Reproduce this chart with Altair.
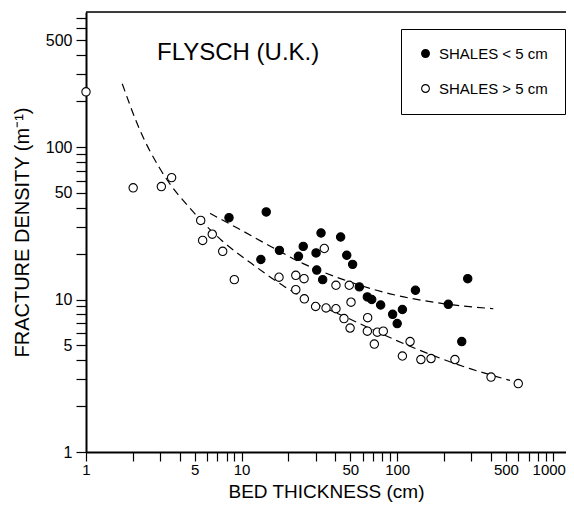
import altair as alt
import pandas as pd

# ---- data ----
series_labels = ["SHALES < 5 cm", "SHALES > 5 cm"]

filled_x = [8.3, 14.4, 13.3, 17.5, 24.9, 23.2, 32.4, 30.1, 43.3, 47.4, 51.7, 30.4,
            33.2, 57.1, 64.3, 68.6, 78.3, 93.5, 108, 131, 100, 213, 284, 260]
filled_y = [34.4, 37.5, 18.3, 21.0, 22.3, 19.2, 27.3, 20.2, 25.7, 19.5, 17.0, 15.6,
            13.5, 12.1, 10.4, 10.0, 9.2, 8.0, 8.6, 11.5, 6.95, 9.3, 13.7, 5.3]

open_x = [1.0, 2.01, 3.05, 3.55, 5.46, 5.62, 6.48, 7.56, 8.98, 17.4, 22.3, 25.2,
          22.3, 25.3, 34.0, 29.9, 34.9, 40.4, 40.4, 49.2, 50.5, 45.5, 64.6, 49.8,
          64.3, 74.5, 81.4, 71.3, 121, 108, 142, 165, 235, 401, 600]
open_y = [230, 54, 55, 63, 33, 24.4, 26.8, 20.7, 13.5, 14.0, 14.4, 13.7,
          11.6, 10.1, 21.6, 9.0, 8.8, 8.7, 12.4, 12.4, 9.6, 7.5, 7.6, 6.5,
          6.2, 6.1, 6.2, 5.1, 5.3, 4.26, 4.04, 4.1, 4.04, 3.1, 2.81]

upper_fit_x = [6.27, 9.52, 15.6, 24.9, 45.1, 89.9, 171, 415]
upper_fit_y = [36.7, 29.2, 22.1, 17.2, 13.5, 10.9, 9.6, 8.7]
lower_fit_x = [1.71, 2.22, 2.99, 4.89, 7.45, 11.6, 19.0, 54.9, 124, 294, 531]
lower_fit_y = [260, 129, 72, 37.5, 24.4, 17.2, 12.1, 7.1, 4.88, 3.52, 2.95]

title_text = "FLYSCH (U.K.)"
x_title = "BED THICKNESS (cm)"
y_title = "FRACTURE DENSITY (m\u207b\u00b9)"

x_ticks = [m * 10 ** e for e in range(0, 4) for m in range(1, 10) if m * 10 ** e <= 1000]
x_labels = [1, 5, 10, 50, 100, 500, 1000]
y_ticks = [m * 10 ** e for e in range(0, 3) for m in range(1, 10) if m * 10 ** e <= 700]
y_labels = [1, 5, 10, 50, 100, 500]

# ---- tables ----
pts = pd.DataFrame({
    "x": filled_x + open_x,
    "y": filled_y + open_y,
    "s": [series_labels[0]] * len(filled_x) + [series_labels[1]] * len(open_x),
})
fits = pd.DataFrame({
    "x": upper_fit_x + lower_fit_x,
    "y": upper_fit_y + lower_fit_y,
    "s": ["upper"] * len(upper_fit_x) + ["lower"] * len(lower_fit_x),
})

FONT = "Liberation Sans"
W, H = 480, 440


def label_expr(vals):
    arr = "[" + ",".join(str(v) for v in vals) + "]"
    return f"indexof({arr}, datum.value) >= 0 ? format(datum.value, 'd') : ''"


xscale = alt.Scale(type="log", domain=[1, 1216], nice=False)
yscale = alt.Scale(type="log", domain=[1, 768], nice=False)

xaxis = alt.Axis(values=x_ticks, labelExpr=label_expr(x_labels), title=x_title,
                 grid=False, labelFlush=False, labelOverlap=False, tickSize=9,
                 tickWidth=1.2, domainWidth=2, domainColor="black", tickColor="black",
                 labelFontSize=15, labelFont=FONT, labelColor="black", labelPadding=1,
                 labelOffset={"condition": {"test": "datum.value === 1000", "value": -4},
                              "value": 0},
                 titleFont=FONT, titleFontSize=19, titleFontWeight="normal",
                 titleColor="black", titlePadding=5)
yaxis = alt.Axis(values=y_ticks, labelExpr=label_expr(y_labels), title=y_title,
                 grid=False, labelFlush=False, labelOverlap=False, tickSize=10,
                 tickWidth=1.2, domainWidth=2, domainColor="black", tickColor="black",
                 labelFontSize=16, labelFont=FONT, labelColor="black", labelPadding=4,
                 titleFont=FONT, titleFontSize=20, titleFontWeight="normal",
                 titleColor="black", titlePadding=13)

points = alt.Chart(pts).mark_point(shape="circle", filled=False, size=70,
                                   stroke="black", strokeWidth=1.1, opacity=1).encode(
    x=alt.X("x:Q", scale=xscale, axis=xaxis),
    y=alt.Y("y:Q", scale=yscale, axis=yaxis),
    fill=alt.Fill("s:N", scale=alt.Scale(domain=series_labels, range=["black", "white"]),
                  legend=alt.Legend(title=None, orient="none", legendX=315, legendY=17,
                                    strokeColor="black", padding=17, rowPadding=19,
                                    labelFont=FONT, labelFontSize=15, labelColor="black",
                                    symbolType="circle", symbolSize=60,
                                    symbolStrokeColor="black", symbolStrokeWidth=1.1,
                                    labelOffset=6)),
)

lines = alt.Chart(fits).mark_line(color="black", strokeWidth=1.2, strokeDash=[8, 5],
                                  interpolate="monotone").encode(
    x=alt.X("x:Q", scale=xscale),
    y=alt.Y("y:Q", scale=yscale),
    detail="s:N",
)

top_border = alt.Chart(pd.DataFrame({"a": [0]})).mark_rule(
    color="black", strokeWidth=1.5).encode(
    x=alt.value(0), x2=alt.value(W), y=alt.value(0))

title = alt.Chart(pd.DataFrame({"t": [title_text]})).mark_text(
    align="left", baseline="middle", font=FONT, fontSize=24, color="black").encode(
    text="t:N", x=alt.value(71), y=alt.value(41))

chart = alt.layer(top_border, lines, points, title).properties(
    width=W, height=H,
    autosize=alt.AutoSizeParams(type="none"),
    padding={"left": 78, "top": 4, "right": 0, "bottom": 51},
).configure_view(strokeWidth=0).configure(background="white")

chart.save("out.html", embed_options={"renderer": "svg", "actions": False})
